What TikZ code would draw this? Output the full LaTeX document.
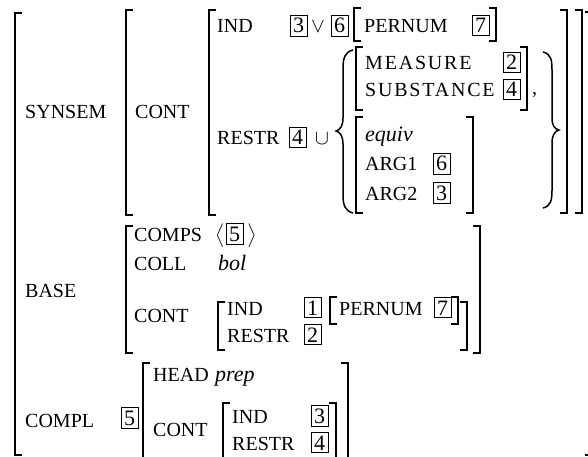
\documentclass[tikz,border=0pt]{standalone}
\usepackage{amsmath}
\usepackage{amssymb}
\usepackage{fontspec}
\setmainfont{Liberation Serif}
\usepackage{tikz}

\tikzset{
  feat/.style={anchor=base west, inner sep=0pt, font=\fontsize{20}{24}\selectfont},
  featsc/.style={feat, font=\fontsize{20}{24}\selectfont\addfontfeature{LetterSpace=9}},
  atom/.style={anchor=base west, inner sep=0pt, font=\fontsize{22}{26}\selectfont\itshape},
  tag/.style={draw, line width=0.7pt, inner sep=2.8pt, anchor=base west, font=\fontsize{22}{26}\selectfont},
  sym/.style={anchor=base west, inner sep=0pt, font=\fontsize{20}{24}\selectfont},
  brak/.style={line width=1.3pt},
  brace/.style={line width=1.5pt},
}
\newcommand{\lbrk}[3]{\draw[brak] (#1+7,#2) -- (#1,#2) -- (#1,#3) -- (#1+7,#3);}
\newcommand{\rbrk}[3]{\draw[brak] (#1-7,#2) -- (#1,#2) -- (#1,#3) -- (#1-7,#3);}

\begin{document}
\begin{tikzpicture}[x=1pt,y=-1pt]
    \useasboundingbox (0,0) rectangle (588,457);
    \clip (0,0) rectangle (588,457);

    % Parentesi esterne
    \lbrk{15}{13}{455}
    \rbrk{592}{12}{455}

    % SYNSEM
    \node[feat] (synsem) at (25,119) {SYNSEM};
    \lbrk{126}{10}{215}
    \node[feat] (cont) at (135,119) {CONT};
    \lbrk{209}{10}{215}
    \node[feat] (ind) at (217,33) {IND};
    \node[tag] (t3a) at (290,33) {3};
    \node[sym] (or) at (311,33) {$\vee$};
    \node[tag] (t6a) at (331,33) {6};
    \lbrk{354}{8}{41}
    \node[feat] (pernum) at (364,33) {PERNUM};
    \node[tag] (t7a) at (472,33) {7};
    \rbrk{496}{8}{41}

    \node[feat] (restr) at (217,145) {RESTR};
    \node[tag] (t4a) at (289,145) {4};
    \node[sym] (cup) at (315,145) {$\cup$};
    \draw[brace] (353,50) .. controls (345,52) and (343,58) .. (343,68) -- (343,118)
        .. controls (343,126) and (340,130) .. (336,131)
        .. controls (340,132) and (343,136) .. (343,144) -- (343,195)
        .. controls (343,205) and (345,211) .. (353,213);
    \lbrk{356}{47}{110}
    \node[featsc] (measure) at (365,70) {MEASURE};
    \node[tag] (t2a) at (503,70) {2};
    \node[featsc] (subst) at (365,97) {SUBSTANCE};
    \node[tag] (t4b) at (503,97) {4};
    \rbrk{527}{47}{110}
    \node[sym] (comma) at (532,95) {,};
    \lbrk{356}{117}{213}
    \node[atom] (equiv) at (365,142) {equiv};
    \node[feat] (arg1) at (365,171) {ARG1};
    \node[tag] (t6b) at (433,171) {6};
    \node[feat] (arg2) at (365,200) {ARG2};
    \node[tag] (t3b) at (433,200) {3};
    \rbrk{473}{117}{213}
    \draw[brace] (543,52) .. controls (551,54) and (552,60) .. (552,70) -- (552,118)
        .. controls (552,126) and (555,129) .. (559,130)
        .. controls (555,131) and (552,135) .. (552,143) -- (552,190)
        .. controls (552,200) and (551,206) .. (543,208);
    \rbrk{567}{10}{213}
    \rbrk{582}{10}{213}

    % BASE
    \node[feat] (base) at (25,297) {BASE};
    \lbrk{126}{226}{353}
    \node[feat] (comps) at (134,241) {COMPS};
    \node[sym] (lang) at (215,241) {$\big\langle$};
    \node[tag] (t5a) at (226,241) {5};
    \node[sym] (rang) at (247,241) {$\big\rangle$};
    \node[feat] (coll) at (134,270) {COLL};
    \node[atom] (bol) at (218,270) {bol};
    \node[feat] (cont2) at (134,322) {CONT};
    \lbrk{218}{302}{350}
    \node[feat] (ind2) at (227,315) {IND};
    \node[tag] (t1) at (304,315) {1};
    \lbrk{330}{297}{324}
    \node[feat] (pernum2) at (339,315) {PERNUM};
    \node[tag] (t7b) at (434,315) {7};
    \rbrk{458}{297}{324}
    \node[feat] (restr2) at (227,342) {RESTR};
    \node[tag] (t2b) at (304,342) {2};
    \rbrk{467}{302}{350}
    \rbrk{480}{226}{353}

    % COMPL
    \node[feat] (compl) at (25,427) {COMPL};
    \node[tag] (t5b) at (121,425) {5};
    \lbrk{143}{363}{470}
    \node[feat] (head) at (153,381) {HEAD};
    \node[atom] (prep) at (215,381) {prep};
    \node[feat] (cont3) at (153,436) {CONT};
    \lbrk{223}{403}{470}
    \node[feat] (ind3) at (232,423) {IND};
    \node[tag] (t3c) at (311,423) {3};
    \node[feat] (restr3) at (232,450) {RESTR};
    \node[tag] (t4c) at (311,450) {4};
    \rbrk{336}{403}{470}
    \rbrk{348}{363}{470}
\end{tikzpicture}
\end{document}
